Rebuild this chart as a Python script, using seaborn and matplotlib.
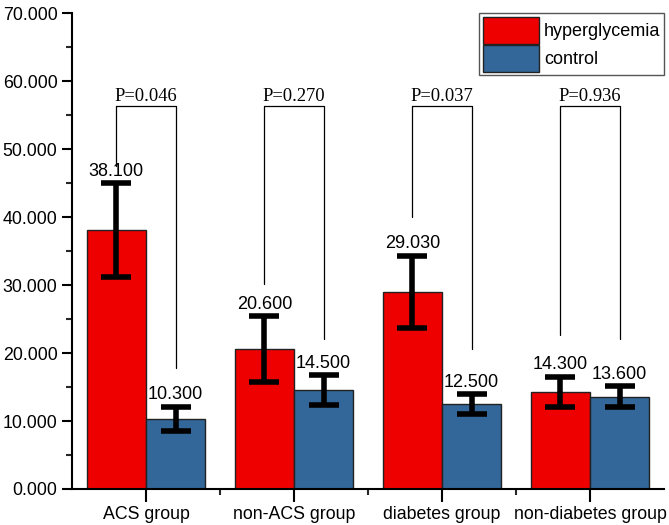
import numpy as np
import pandas as pd
import seaborn as sns
import matplotlib.pyplot as plt

# values
groups = ["ACS group", "non-ACS group", "diabetes group", "non-diabetes group"]
hyper_mean = [38.100, 20.600, 29.030, 14.300]
hyper_err = [6.9, 4.8, 5.3, 2.2]
control_mean = [10.300, 14.500, 12.500, 13.600]
control_err = [1.8, 2.2, 1.4, 1.5]
p_values = ["P=0.046", "P=0.270", "P=0.037", "P=0.936"]
# bracket: top height, left leg bottom, right leg bottom
bracket_top = 56.3
left_leg_end = [47.5, 30.1, 40.0, 22.6]
right_leg_end = [17.8, 22.0, 20.6, 22.0]

df = pd.DataFrame({
    "group": groups * 2,
    "type": ["hyperglycemia"] * 4 + ["control"] * 4,
    "value": hyper_mean + control_mean,
    "err": hyper_err + control_err,
})

sns.set_style("ticks")
plt.rcParams["font.family"] = ["Liberation Sans", "DejaVu Sans"]
plt.rcParams["text.color"] = "black"

fig = plt.figure(figsize=(6.69, 5.25), dpi=100)
ax = fig.add_axes([0.1076, 0.0686, 0.885, 0.9064])

palette = {"hyperglycemia": "#EE0000", "control": "#336699"}
sns.barplot(data=df, x="group", y="value", hue="type", palette=palette,
            order=groups, hue_order=["hyperglycemia", "control"],
            width=0.8, edgecolor="#222222", linewidth=1, saturation=1,
            errorbar=None, ax=ax)

# bar centres from the drawn patches
bars = [p for p in ax.patches if p.get_height() > 0][:8]
xs = [b.get_x() + b.get_width() / 2 for b in bars]
means = hyper_mean + control_mean
errs = hyper_err + control_err
ax.errorbar(xs, means, yerr=errs, fmt="none", ecolor="black",
            elinewidth=4, capsize=11, capthick=4, zorder=5)

for x, m, e in zip(xs, means, errs):
    ax.text(x, m + e + 0.5, f"{m:.3f}", ha="center", va="bottom", fontsize=13)

for i in range(4):
    xl, xr = xs[i], xs[i + 4]
    ax.plot([xl, xl, xr, xr], [left_leg_end[i], bracket_top, bracket_top, right_leg_end[i]],
            color="black", lw=0.9, zorder=4)
    ax.text((xl + xr) / 2, bracket_top + 0.2, p_values[i], ha="center", va="bottom",
            fontsize=13.3, family="Liberation Serif")

ax.set_ylim(0, 70)
ax.set_xlim(-0.5, 3.5)
ax.set_yticks(np.arange(0, 71, 10))
ax.set_yticks(np.arange(5, 70, 10), minor=True)
ax.set_yticklabels([f"{v:.3f}" for v in np.arange(0, 71, 10)])
ax.set_xticks([0.5, 1.5, 2.5], minor=True)
ax.tick_params(axis="both", which="major", direction="out", length=7, width=1.5,
               labelsize=12.8, colors="black")
ax.tick_params(axis="both", which="minor", direction="out", length=4, width=1.5)
ax.tick_params(axis="x", which="major", length=9)
ax.set_xlabel("")
ax.set_ylabel("")
sns.despine(ax=ax)
for s in ["left", "bottom"]:
    ax.spines[s].set_linewidth(1.5)
    ax.spines[s].set_color("black")

leg = ax.legend(loc="upper right", bbox_to_anchor=(1.0, 1.0), fontsize=13,
                handlelength=3.1, handleheight=1.93, handletextpad=0.3,
                labelspacing=0.05, borderpad=0.2, borderaxespad=0.0,
                fancybox=False, framealpha=1)
leg.get_frame().set_edgecolor("#555555")
leg.get_frame().set_linewidth(1)

fig.savefig("out.png", dpi=100)
